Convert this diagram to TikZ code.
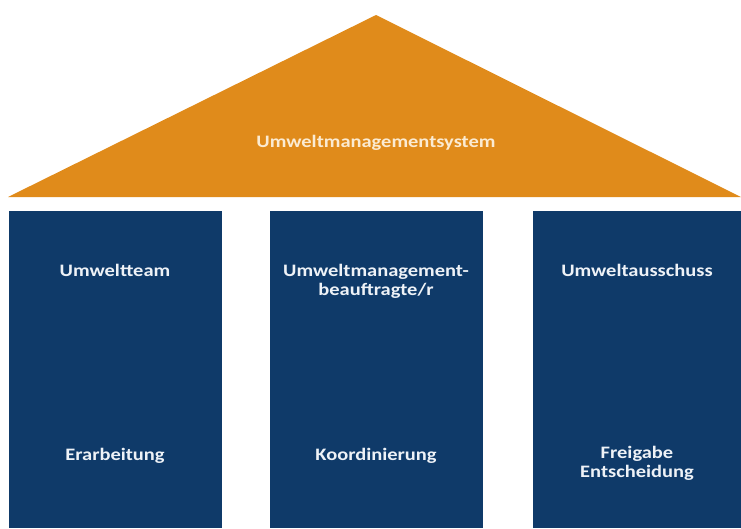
\documentclass[tikz,border=0pt]{standalone}
\usepackage{fontspec}
\setmainfont{Carlito}[FakeStretch=1.17]
\definecolor{roof}{HTML}{E08B1B}
\definecolor{pillar}{HTML}{0F3A69}
\definecolor{rooftext}{HTML}{FBEBD2}
\definecolor{pillartext}{HTML}{EEF2F7}
\begin{document}
\begin{tikzpicture}[x=1pt,y=-1pt,
  pillarbox/.style={fill=pillar,draw=none},
  lbl/.style={text=pillartext,font=\bfseries\fontsize{17.5}{19}\selectfont,align=center,inner sep=0pt}]
\useasboundingbox (0,0) rectangle (741,528);
\fill[roof] (8,197) -- (376,15) -- (741,197) -- cycle;
\fill[pillarbox] (9,211) rectangle (222,528);
\fill[pillarbox] (270,211) rectangle (483,528);
\fill[pillarbox] (533,211) rectangle (741,528);
\node[lbl,text=rooftext] (sys) at (376,143) {Umweltmanagementsystem};
\node[lbl] (team) at (115,270) {Umweltteam};
\node[lbl] (beauf) at (376,281) {Umweltmanagement-\\beauftragte/r};
\node[lbl] (aus) at (637,270) {Umweltausschuss};
\node[lbl] (erar) at (115,456) {Erarbeitung};
\node[lbl] (koord) at (376,456) {Koordinierung};
\node[lbl] (frei) at (637,463) {Freigabe\\Entscheidung};
\end{tikzpicture}
\end{document}
